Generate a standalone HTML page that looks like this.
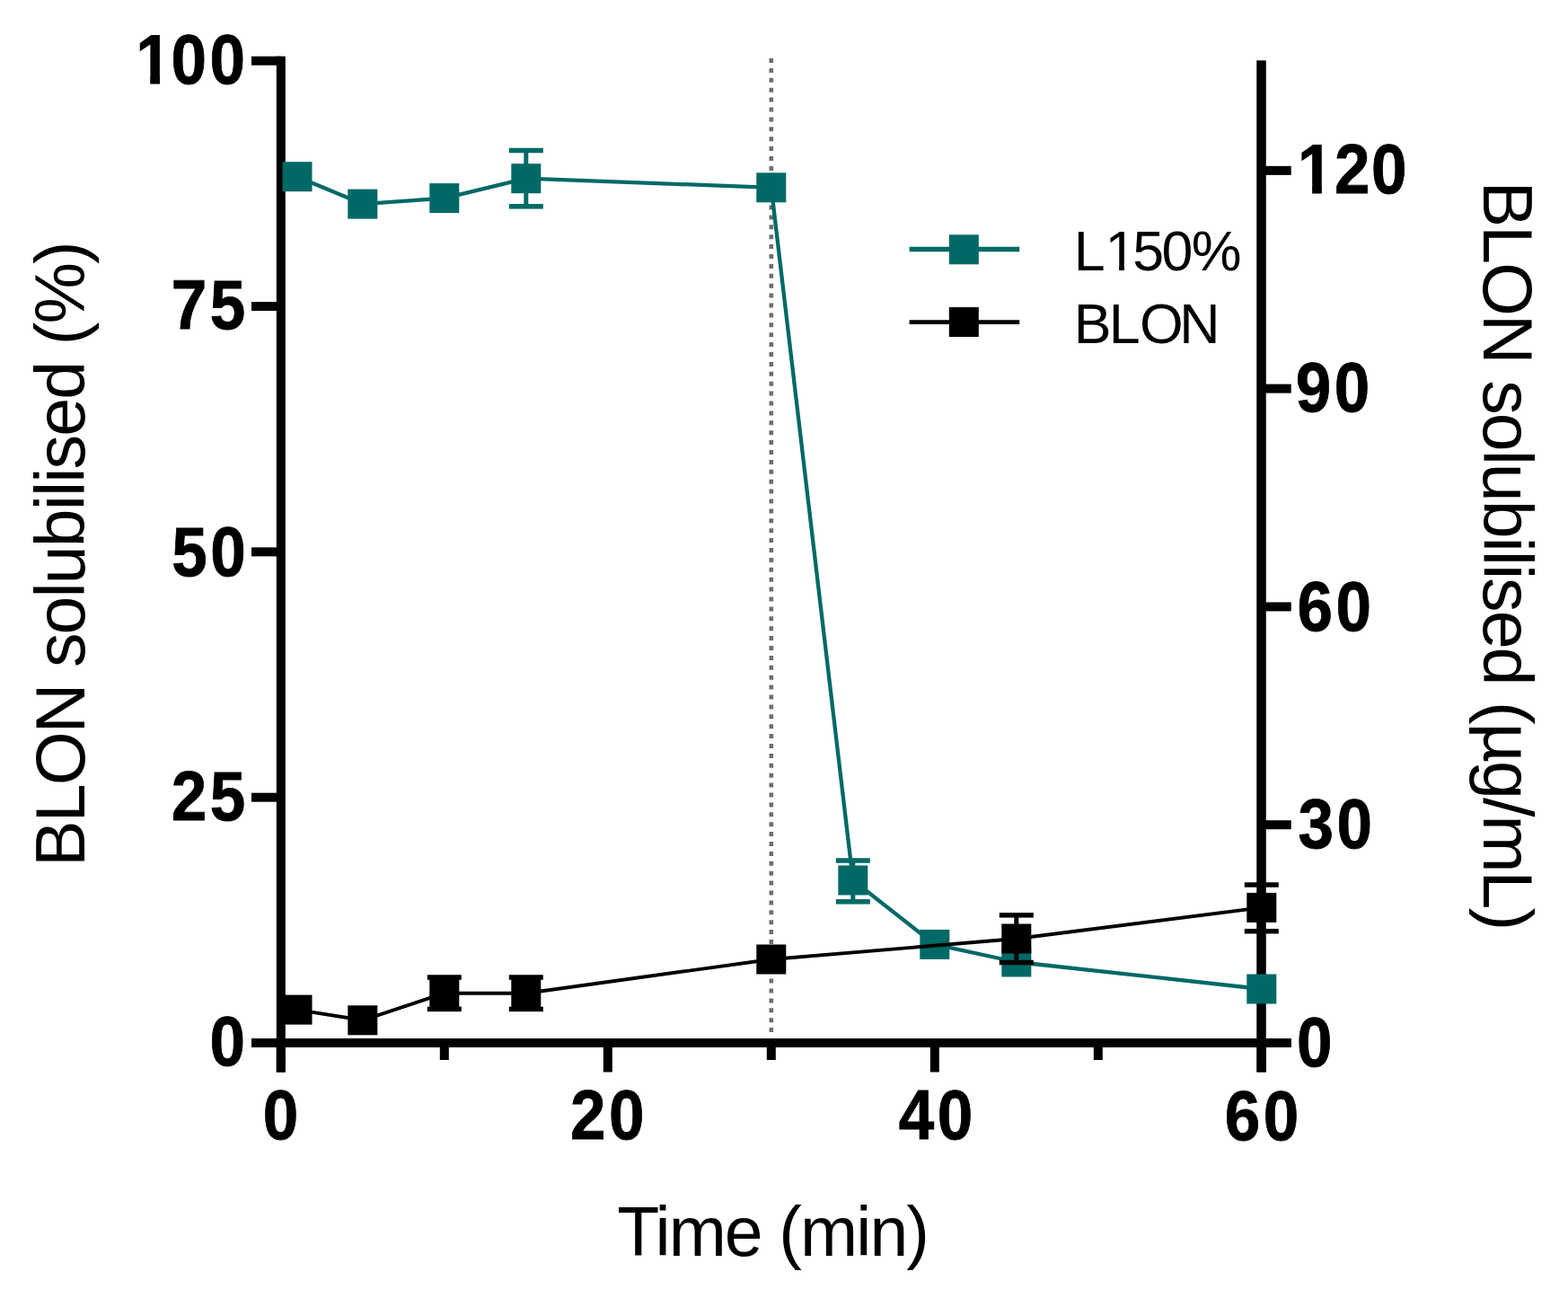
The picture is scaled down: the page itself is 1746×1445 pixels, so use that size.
<!DOCTYPE html>
<html><head><meta charset="utf-8"><title>BLON solubilised</title>
<style>
html,body{margin:0;padding:0;background:#fff;}
body{width:1746px;height:1445px;overflow:hidden;}
svg{display:block;}
text{font-family:'Liberation Sans', Arial, Helvetica, sans-serif;fill:#000;}
</style></head>
<body>
<svg width="1746" height="1445" viewBox="0 0 1746 1445">
<rect width="1746" height="1445" fill="#fff"/>
<g>
<rect x="307.80" y="62.70" width="10.00" height="1130.90" fill="#000"/>
<rect x="280.00" y="1156.00" width="32.80" height="10.00" fill="#000"/>
<rect x="280.00" y="882.67" width="32.80" height="10.00" fill="#000"/>
<rect x="280.00" y="609.35" width="32.80" height="10.00" fill="#000"/>
<rect x="280.00" y="336.02" width="32.80" height="10.00" fill="#000"/>
<rect x="280.00" y="62.70" width="32.80" height="10.00" fill="#000"/>
<rect x="280.00" y="1156.00" width="1157.70" height="10.00" fill="#000"/>
<rect x="307.80" y="1161.00" width="10.00" height="32.50" fill="#000"/>
<rect x="671.80" y="1161.00" width="10.00" height="32.50" fill="#000"/>
<rect x="1035.80" y="1161.00" width="10.00" height="32.50" fill="#000"/>
<rect x="1399.80" y="1161.00" width="10.00" height="32.50" fill="#000"/>
<rect x="489.80" y="1161.00" width="10.00" height="19.00" fill="#000"/>
<rect x="853.80" y="1161.00" width="10.00" height="19.00" fill="#000"/>
<rect x="1217.80" y="1161.00" width="10.00" height="19.00" fill="#000"/>
<rect x="1399.25" y="67.30" width="10.50" height="1126.20" fill="#000"/>
<rect x="1404.50" y="1156.00" width="33.20" height="10.00" fill="#000"/>
<rect x="1404.50" y="913.21" width="33.20" height="10.00" fill="#000"/>
<rect x="1404.50" y="670.42" width="33.20" height="10.00" fill="#000"/>
<rect x="1404.50" y="427.63" width="33.20" height="10.00" fill="#000"/>
<rect x="1404.50" y="184.84" width="33.20" height="10.00" fill="#000"/>
<line x1="858.80" y1="65" x2="858.80" y2="1155" stroke="#6e6e6e" stroke-width="4.6" stroke-dasharray="5 5.9"/>
<polyline points="331.00,196.70 403.80,227.10 494.80,220.60 585.80,198.70 858.80,208.80 949.80,980.00 1040.80,1051.40 1131.80,1071.00 1404.80,1101.00" fill="none" stroke="#006966" stroke-width="4.3" stroke-linejoin="round"/>
<line x1="585.80" y1="167.50" x2="585.80" y2="229.80" stroke="#006966" stroke-width="5"/>
<rect x="566.80" y="164.75" width="38.00" height="5.50" fill="#006966"/>
<rect x="566.80" y="227.05" width="38.00" height="5.50" fill="#006966"/>
<line x1="949.80" y1="958.00" x2="949.80" y2="1003.80" stroke="#006966" stroke-width="5"/>
<rect x="930.80" y="955.25" width="38.00" height="5.50" fill="#006966"/>
<rect x="930.80" y="1001.05" width="38.00" height="5.50" fill="#006966"/>
<rect x="314.50" y="180.20" width="33.00" height="33.00" fill="#006966"/>
<rect x="387.30" y="210.60" width="33.00" height="33.00" fill="#006966"/>
<rect x="478.30" y="204.10" width="33.00" height="33.00" fill="#006966"/>
<rect x="569.30" y="182.20" width="33.00" height="33.00" fill="#006966"/>
<rect x="842.30" y="192.30" width="33.00" height="33.00" fill="#006966"/>
<rect x="933.30" y="963.50" width="33.00" height="33.00" fill="#006966"/>
<rect x="1024.30" y="1034.90" width="33.00" height="33.00" fill="#006966"/>
<rect x="1115.30" y="1054.50" width="33.00" height="33.00" fill="#006966"/>
<rect x="1388.30" y="1084.50" width="33.00" height="33.00" fill="#006966"/>
<polyline points="331.00,1124.10 403.80,1135.80 494.80,1105.70 585.80,1105.70 858.80,1068.00 1131.80,1045.00 1404.80,1010.40" fill="none" stroke="#000" stroke-width="3.9" stroke-linejoin="round"/>
<line x1="494.80" y1="1088.00" x2="494.80" y2="1123.40" stroke="#000" stroke-width="5"/>
<rect x="475.80" y="1085.25" width="38.00" height="5.50" fill="#000"/>
<rect x="475.80" y="1120.65" width="38.00" height="5.50" fill="#000"/>
<line x1="585.80" y1="1088.00" x2="585.80" y2="1123.40" stroke="#000" stroke-width="5"/>
<rect x="566.80" y="1085.25" width="38.00" height="5.50" fill="#000"/>
<rect x="566.80" y="1120.65" width="38.00" height="5.50" fill="#000"/>
<line x1="1131.80" y1="1018.80" x2="1131.80" y2="1071.50" stroke="#000" stroke-width="5"/>
<rect x="1112.80" y="1016.05" width="38.00" height="5.50" fill="#000"/>
<rect x="1112.80" y="1068.75" width="38.00" height="5.50" fill="#000"/>
<line x1="1404.80" y1="985.00" x2="1404.80" y2="1036.70" stroke="#000" stroke-width="5"/>
<rect x="1385.80" y="982.25" width="38.00" height="5.50" fill="#000"/>
<rect x="1385.80" y="1033.95" width="38.00" height="5.50" fill="#000"/>
<rect x="314.50" y="1107.60" width="33.00" height="33.00" fill="#000"/>
<rect x="387.30" y="1119.30" width="33.00" height="33.00" fill="#000"/>
<rect x="478.30" y="1089.20" width="33.00" height="33.00" fill="#000"/>
<rect x="569.30" y="1089.20" width="33.00" height="33.00" fill="#000"/>
<rect x="842.30" y="1051.50" width="33.00" height="33.00" fill="#000"/>
<rect x="1115.30" y="1028.50" width="33.00" height="33.00" fill="#000"/>
<rect x="1388.30" y="993.90" width="33.00" height="33.00" fill="#000"/>
<line x1="1012.6" y1="277.6" x2="1135.2" y2="277.6" stroke="#006966" stroke-width="5.5"/>
<rect x="1056.80" y="261.30" width="33.00" height="33.00" fill="#006966"/>
<line x1="1012.6" y1="358.6" x2="1135.2" y2="358.6" stroke="#000" stroke-width="4.6"/>
<rect x="1056.80" y="342.00" width="33.00" height="33.00" fill="#000"/>
<g transform="translate(276.50,1186.45) scale(0.9350,1.0300)"><text font-size="76.00" font-weight="bold" text-anchor="end" letter-spacing="3.72" stroke="#000" stroke-width="0.8">0</text></g>
<g transform="translate(276.75,913.38) scale(0.9350,1.0300)"><text font-size="76.00" font-weight="bold" text-anchor="end" letter-spacing="3.72" stroke="#000" stroke-width="0.8">25</text></g>
<g transform="translate(277.25,640.55) scale(0.9350,1.0300)"><text font-size="76.00" font-weight="bold" text-anchor="end" letter-spacing="3.72" stroke="#000" stroke-width="0.8">50</text></g>
<g transform="translate(276.75,366.47) scale(0.9350,1.0300)"><text font-size="76.00" font-weight="bold" text-anchor="end" letter-spacing="3.72" stroke="#000" stroke-width="0.8">75</text></g>
<g transform="translate(152.50,93.15) scale(0.9350,1.0300)"><text x="-1.45 40.60 86.59" font-size="76.00" font-weight="bold" text-anchor="start" stroke="#000" stroke-width="0.8">100</text><rect x="1.10" y="-9.76" width="14.64" height="12.66" fill="#fff"/><rect x="27.26" y="-9.76" width="13.71" height="12.66" fill="#fff"/></g>
<g transform="translate(1444.00,1187.10) scale(0.9350,1.0300)"><text font-size="76.00" font-weight="bold" text-anchor="start" letter-spacing="3.72" stroke="#000" stroke-width="0.8">0</text></g>
<g transform="translate(1445.50,944.16) scale(0.9350,1.0300)"><text font-size="76.00" font-weight="bold" text-anchor="start" letter-spacing="3.72" stroke="#000" stroke-width="0.8">30</text></g>
<g transform="translate(1444.50,701.62) scale(0.9350,1.0300)"><text font-size="76.00" font-weight="bold" text-anchor="start" letter-spacing="3.72" stroke="#000" stroke-width="0.8">60</text></g>
<g transform="translate(1442.75,457.83) scale(0.9350,1.0300)"><text font-size="76.00" font-weight="bold" text-anchor="start" letter-spacing="3.72" stroke="#000" stroke-width="0.8">90</text></g>
<g transform="translate(1439.50,214.54) scale(0.9350,1.0300)"><text x="5.92 49.85 93.54" font-size="76.00" font-weight="bold" text-anchor="start" stroke="#000" stroke-width="0.8">120</text><rect x="8.48" y="-9.76" width="14.64" height="12.66" fill="#fff"/><rect x="34.64" y="-9.76" width="13.71" height="12.66" fill="#fff"/></g>
<g transform="translate(314.30,1268.00) scale(0.9350,1.0300)"><text font-size="76.00" font-weight="bold" text-anchor="middle" letter-spacing="3.72" stroke="#000" stroke-width="0.8">0</text></g>
<g transform="translate(678.05,1268.00) scale(0.9350,1.0300)"><text font-size="76.00" font-weight="bold" text-anchor="middle" letter-spacing="3.72" stroke="#000" stroke-width="0.8">20</text></g>
<g transform="translate(1043.80,1268.00) scale(0.9350,1.0300)"><text font-size="76.00" font-weight="bold" text-anchor="middle" letter-spacing="3.72" stroke="#000" stroke-width="0.8">40</text></g>
<g transform="translate(1406.80,1268.50) scale(0.9350,1.0300)"><text font-size="76.00" font-weight="bold" text-anchor="middle" letter-spacing="3.72" stroke="#000" stroke-width="0.8">60</text></g>
<g transform="translate(860.10,1397.90) scale(1.0000,1.0200)"><text font-size="77.00" font-weight="normal" text-anchor="middle" letter-spacing="-1.911">Time (min)</text></g>
<g transform="translate(94.45,617.50) rotate(-90) scale(1.0000,1.0200)"><text font-size="77.00" font-weight="normal" text-anchor="middle" letter-spacing="-1.853">BLON solubilised (%)</text></g>
<g transform="translate(1651.60,618.00) rotate(90) scale(1.0000,1.0200)"><text font-size="77.00" font-weight="normal" text-anchor="middle" letter-spacing="-1.93">BLON solubilised (µg/mL)</text></g>
<g transform="translate(1175.50,300.80) scale(1.0000,1.0100)"><text x="20.16 54.96 85.79 117.95 151.37" font-size="62.70" font-weight="normal" text-anchor="start">L150%</text><rect x="57.96" y="-6.28" width="12.62" height="8.78" fill="#fff"/><rect x="76.42" y="-6.28" width="12.13" height="8.78" fill="#fff"/></g>
<g transform="translate(1189.40,381.60) scale(1.0000,1.0100)"><text x="6.26 45.46 79.53 123.76" font-size="62.70" font-weight="normal" text-anchor="start">BLON</text></g>
</g>
</svg>
</body></html>
